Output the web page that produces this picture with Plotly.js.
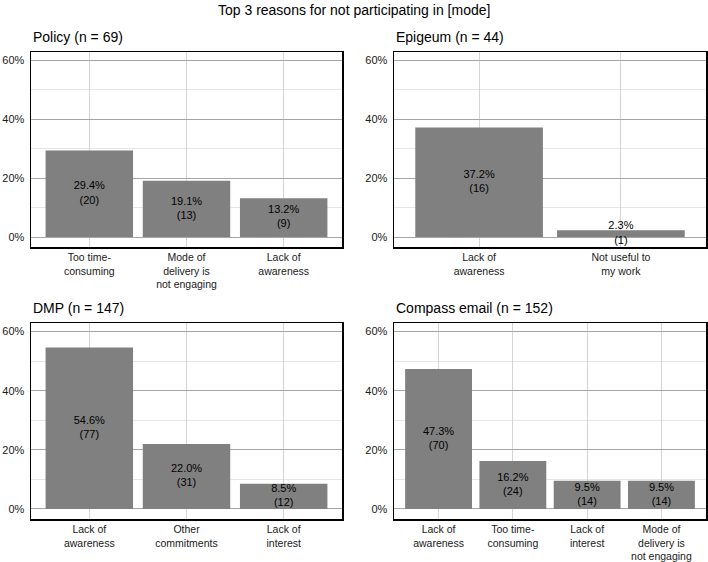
<!DOCTYPE html>
<html>
<head>
<meta charset="utf-8">
<script src="https://cdn.plot.ly/plotly-3.0.1.min.js"></script>
<style>
  html, body { margin: 0; padding: 0; background: #fff; }
  #chart { width: 708px; height: 562px; }
</style>
</head>
<body>
<div id="chart"></div>
<script>
// ---- data ----
var policyCats = ['Too time-<br>consuming', 'Mode of<br>delivery is<br>not engaging', 'Lack of<br>awareness'];
var policyPct = [29.4, 19.1, 13.2];
var policyN = [20, 13, 9];

var epigeumCats = ['Lack of<br>awareness', 'Not useful to<br>my work'];
var epigeumPct = [37.2, 2.3];
var epigeumN = [16, 1];

var dmpCats = ['Lack of<br>awareness', 'Other<br>commitments', 'Lack of<br>interest'];
var dmpPct = [54.6, 22.0, 8.5];
var dmpN = [77, 31, 12];

var compassCats = ['Lack of<br>awareness', 'Too time-<br>consuming', 'Lack of<br>interest', 'Mode of<br>delivery is<br>not engaging'];
var compassPct = [47.3, 16.2, 9.5, 9.5];
var compassN = [70, 24, 14, 14];

var panelTitles = ['Policy (n = 69)', 'Epigeum (n = 44)', 'DMP (n = 147)', 'Compass email (n = 152)'];
var yTicks = [0, 20, 40, 60];

var FONT = '"Liberation Sans", Arial, Helvetica, sans-serif';
var W = 708, H = 562;

// panel frames in pixels: [left, right, top, bottom]
var frames = [
  [31, 342, 52, 247],
  [394, 706, 52, 247],
  [31, 342, 323, 519],
  [394, 706, 323, 519]
];

var panels = [
  { cats: policyCats, pct: policyPct, n: policyN },
  { cats: epigeumCats, pct: epigeumPct, n: epigeumN },
  { cats: dmpCats, pct: dmpPct, n: dmpN },
  { cats: compassCats, pct: compassPct, n: compassN }
];

var data = [];
var layout = {
  width: W, height: H,
  margin: { l: 0, r: 0, t: 0, b: 0 },
  paper_bgcolor: '#fff',
  plot_bgcolor: '#fff',
  showlegend: false,
  bargap: 0.1,
  font: { family: FONT, size: 11, color: '#000' },
  annotations: [{
    text: 'Top 3 reasons for not participating in [mode]',
    xref: 'paper', yref: 'paper', x: 354 / W, y: 1 - 10 / H,
    xanchor: 'center', yanchor: 'middle', showarrow: false,
    font: { family: FONT, size: 14, color: '#000' }
  }]
};

panels.forEach(function (p, i) {
  var k = i + 1;
  var xa = 'x' + (k === 1 ? '' : k), ya = 'y' + (k === 1 ? '' : k);
  var f = frames[i];

  data.push({
    type: 'bar', x: p.cats, y: p.pct, xaxis: xa, yaxis: ya,
    marker: { color: '#808080', line: { width: 0 } },
    hoverinfo: 'skip'
  });
  data.push({
    type: 'scatter', mode: 'text', x: p.cats,
    y: p.pct.map(function (v) { return v / 2; }),
    text: p.pct.map(function (v, j) { return v.toFixed(1) + '%<br>(' + p.n[j] + ')'; }),
    textfont: { family: FONT, size: 11, color: '#000' },
    xaxis: xa, yaxis: ya, hoverinfo: 'skip', cliponaxis: false
  });

  layout['xaxis' + (k === 1 ? '' : k)] = {
    domain: [f[0] / W, f[1] / W],
    anchor: ya,
    type: 'category',
    categoryorder: 'array', categoryarray: p.cats,
    range: [-0.6, p.cats.length - 0.4],
    showgrid: true, gridcolor: '#d4d4d4', gridwidth: 1,
    showline: true, mirror: true, linecolor: '#000', linewidth: 1.5,
    ticks: '', ticklabelstandoff: 0,
    tickfont: { family: FONT, size: 10.5, color: '#1a1a1a' },
    zeroline: false, fixedrange: true
  };
  layout['yaxis' + (k === 1 ? '' : k)] = {
    domain: [1 - f[3] / H, 1 - f[2] / H],
    anchor: xa,
    range: [-3.4, 62.9],
    tickvals: yTicks,
    ticktext: yTicks.map(function (v) { return v + '%'; }),
    showgrid: true, gridcolor: '#a6a6a6', gridwidth: 1,
    minor: { dtick: 10, tick0: 0, showgrid: true, gridcolor: '#e6e6e6', gridwidth: 1 },
    showline: true, mirror: true, linecolor: '#000', linewidth: 1.5,
    ticks: '', ticklabelstandoff: 3,
    tickfont: { family: FONT, size: 11, color: '#1a1a1a' },
    zeroline: false, fixedrange: true
  };

  layout.annotations.push({
    text: panelTitles[i],
    xref: 'paper', yref: 'paper', x: f[0] / W, y: 1 - (f[2] - 15) / H,
    xanchor: 'left', yanchor: 'middle', showarrow: false,
    font: { family: FONT, size: 14, color: '#000' }
  });
});

Plotly.newPlot('chart', data, layout, { displayModeBar: false, staticPlot: true });
</script>
</body>
</html>
